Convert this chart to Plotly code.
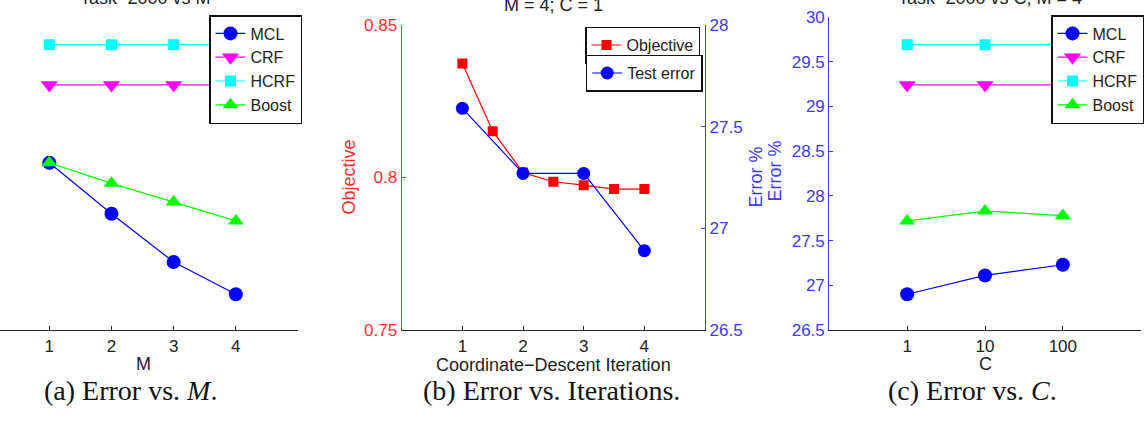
import plotly.graph_objects as go

W, H = 1147, 422

# ---------------- data ----------------
M_vals = [1, 2, 3, 4]
mcl_M = [28.37, 27.80, 27.26, 26.90]
crf_M = [29.24, 29.24, 29.24, 29.24]
hcrf_M = [29.69, 29.69, 29.69, 29.69]
boost_M = [28.37, 28.14, 27.93, 27.72]

iter_obj = [1, 1.5, 2, 2.5, 3, 3.5, 4]
objective = [0.8374, 0.8152, 0.8016, 0.7986, 0.7975, 0.7962, 0.7962]
iter_err = [1, 2, 3, 4]
test_err = [27.59, 27.27, 27.27, 26.89]

C_vals = [1, 10, 100]
mcl_C = [26.90, 27.11, 27.23]
crf_C = [29.24, 29.24, 29.24]
hcrf_C = [29.69, 29.69, 29.69]
boost_C = [27.72, 27.83, 27.78]

err_ticks = [26.5, 27, 27.5, 28, 28.5, 29, 29.5, 30]
err_ticktext = ["26.5", "27", "27.5", "28", "28.5", "29", "29.5", "30"]
obj_ticks = [0.75, 0.8, 0.85]
obj_ticktext = ["0.75", "0.8", "0.85"]
err_b_ticks = [26.5, 27, 27.5, 28]
err_b_ticktext = ["26.5", "27", "27.5", "28"]

BLUE, MAG, CYAN, GREEN, RED = "#0000ff", "#ff00ff", "#00ffff", "#00ff00", "#ff0000"
AXBLUE = "rgb(60,60,235)"
AXRED = "rgb(255,50,50)"
SANS = "Liberation Sans, Arial, Helvetica, sans-serif"
SERIF = "Liberation Serif, Times New Roman, serif"
FS = 17
LFS = 16


def px(x):
    return x / W


def py(y):
    return 1 - y / H


fig = go.Figure()

series_style = [
    ("MCL", "circle", 14, BLUE),
    ("CRF", "triangle-down", 15, MAG),
    ("HCRF", "square", 11, CYAN),
    ("Boost", "triangle-up", 14, GREEN),
]

# panel (a)
for (name, sym, sz, col), ys in zip(series_style, [mcl_M, crf_M, hcrf_M, boost_M]):
    fig.add_trace(go.Scatter(x=M_vals, y=ys, name=name, mode="lines+markers",
                             line=dict(color=col, width=1.2),
                             marker=dict(symbol=sym, size=sz, color=col, line=dict(width=0)),
                             xaxis="x", yaxis="y", legend="legend"))

# panel (b)
fig.add_trace(go.Scatter(x=iter_obj, y=objective, name="Objective", mode="lines+markers",
                         line=dict(color=RED, width=1.2),
                         marker=dict(symbol="square", size=10, color=RED, line=dict(width=0)),
                         xaxis="x2", yaxis="y2", legend="legend2"))
fig.add_trace(go.Scatter(x=iter_err, y=test_err, name="Test error", mode="lines+markers",
                         line=dict(color=BLUE, width=1.2),
                         marker=dict(symbol="circle", size=13, color=BLUE, line=dict(width=0)),
                         xaxis="x2", yaxis="y3", legend="legend3"))

# panel (c)
for (name, sym, sz, col), ys in zip(series_style, [mcl_C, crf_C, hcrf_C, boost_C]):
    fig.add_trace(go.Scatter(x=C_vals, y=ys, name=name, mode="lines+markers",
                             line=dict(color=col, width=1.2),
                             marker=dict(symbol=sym, size=sz, color=col, line=dict(width=0)),
                             xaxis="x3", yaxis="y4", legend="legend4"))

tickfont = dict(family=SANS, size=FS, color="#222")
xcommon = dict(showline=True, linecolor="#222", linewidth=1.2, ticks="inside", ticklen=4,
               tickcolor="#222", showgrid=False, zeroline=False, tickfont=tickfont,
               automargin=False)

dom_err = [py(330), py(17)]
dom_b = [py(330), py(25)]

legend_common = dict(bgcolor="white", bordercolor="#111", borderwidth=1.5,
                     font=dict(family=SANS, size=LFS, color="#222"),
                     xanchor="left", yanchor="top", tracegroupgap=0, itemwidth=30)

fig.update_layout(
    width=W, height=H, margin=dict(l=0, r=0, t=0, b=0, pad=0, autoexpand=False),
    paper_bgcolor="white", plot_bgcolor="white",
    showlegend=True,
    xaxis=dict(domain=[0, px(298)], range=[0.207, 5], tickvals=M_vals,
               ticktext=[str(v) for v in M_vals], anchor="y", **xcommon),
    yaxis=dict(domain=dom_err, range=[26.5, 30], showline=False, showticklabels=False,
               ticks="", showgrid=False, zeroline=False, anchor="x", automargin=False),
    xaxis2=dict(domain=[px(401.7), px(705)], range=[0, 5], tickvals=iter_err,
                ticktext=[str(v) for v in iter_err], anchor="y2", **xcommon),
    yaxis2=dict(domain=dom_b, range=[0.75, 0.85], tickvals=obj_ticks, ticktext=obj_ticktext,
                showline=True, linecolor=AXRED, linewidth=1.2, ticks="inside", ticklen=4,
                tickcolor=AXRED, tickfont=dict(family=SANS, size=FS, color=AXRED),
                showgrid=False, zeroline=False, anchor="x2", automargin=False),
    yaxis3=dict(domain=dom_b, range=[26.5, 28], tickvals=err_b_ticks, ticktext=err_b_ticktext,
                overlaying="y2", side="right", anchor="x2",
                showline=True, linecolor=AXBLUE, linewidth=1.2, ticks="inside", ticklen=4,
                tickcolor=AXBLUE, tickfont=dict(family=SANS, size=FS, color=AXBLUE),
                showgrid=False, zeroline=False, automargin=False),
    xaxis3=dict(domain=[px(829.3), px(1140.7)], type="log", range=[-1, 3], tickvals=C_vals,
                ticktext=[str(v) for v in C_vals], anchor="y4", **xcommon),
    yaxis4=dict(domain=dom_err, range=[26.5, 30], tickvals=err_ticks, ticktext=err_ticktext,
                showline=True, linecolor=AXBLUE, linewidth=1.2, ticks="inside", ticklen=4,
                tickcolor=AXBLUE, tickfont=dict(family=SANS, size=FS, color=AXBLUE),
                showgrid=False, zeroline=False, anchor="x3", automargin=False),
    legend=dict(x=px(209), y=py(15), **legend_common),
    legend2=dict(x=px(585), y=py(26.6), **legend_common),
    legend3=dict(x=px(585.7), y=py(54.6), **legend_common),
    legend4=dict(x=px(1051), y=py(15), **legend_common),
)

ann = []


def text(x, y, s, size=FS, color="#222", family=SANS, angle=0):
    ann.append(dict(x=px(x), y=py(y), xref="paper", yref="paper", text=s, showarrow=False,
                    xanchor="center", yanchor="middle", textangle=angle,
                    font=dict(family=family, size=size, color=color)))


# panel titles (cropped at top in the original)
text(145, -2, "Task\u22122000 vs M", size=18)
text(553, 4.5, "M = 4; C = 1", size=18)
text(990, -2, "Task\u22122000 vs C; M = 4", size=18)

# axis titles
text(143, 364, "M", size=18)
text(553, 365, "Coordinate\u2212Descent Iteration", size=18)
text(985, 364, "C", size=18)
text(348, 177.5, "Objective", size=18, color=AXRED, angle=-90)
text(755, 177.5, "Error %", size=18, color=AXBLUE, angle=-90)
text(775, 171.5, "Error %", size=18, color=AXBLUE, angle=-90)

# captions
text(130, 390, "(a) Error vs. <i>M</i>.", size=28, color="#111", family=SERIF)
text(551, 390, "(b) Error vs. Iterations.", size=28, color="#111", family=SERIF)
text(972, 390, "(c) Error vs. <i>C</i>.", size=28, color="#111", family=SERIF)

fig.update_layout(annotations=ann)

fig.write_html("out.html")
